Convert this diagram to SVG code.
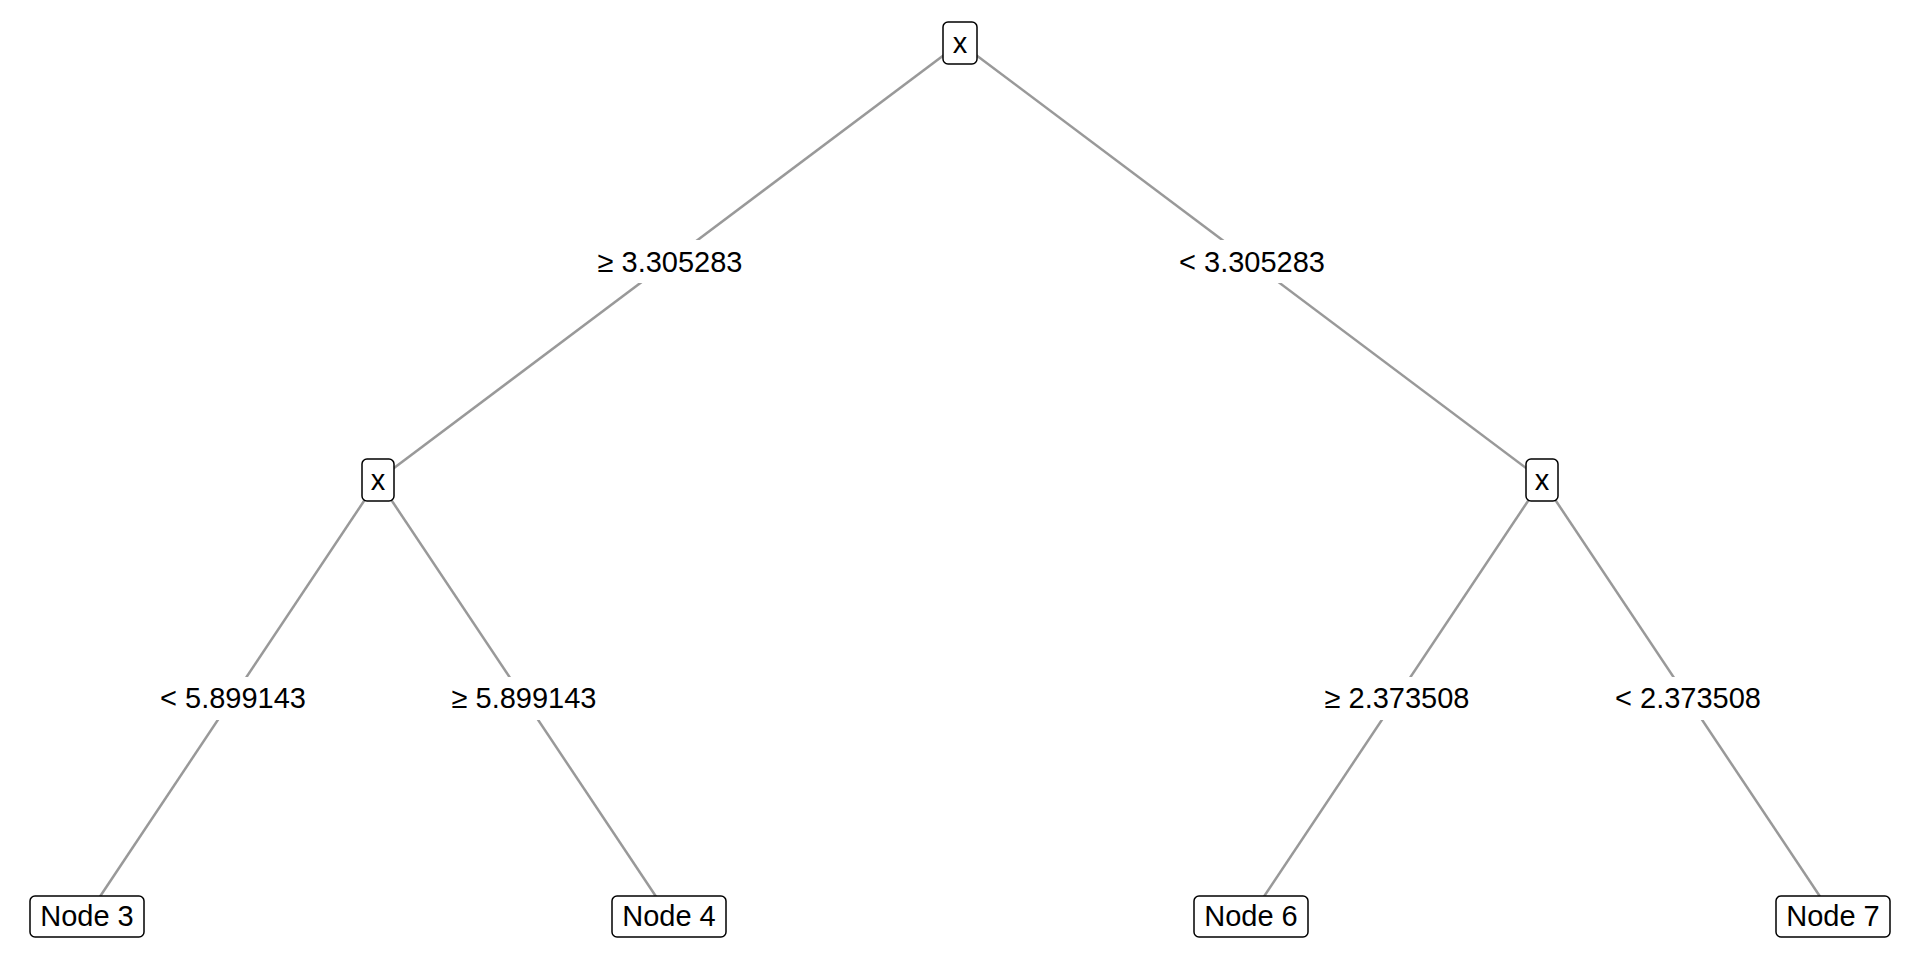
<svg xmlns="http://www.w3.org/2000/svg" width="1920" height="960" viewBox="0 0 1920 960">
<style>
.edge{stroke:#999999;stroke-width:2.5;fill:none}
.box{fill:#ffffff;stroke:#000000;stroke-width:1.5}
.lbg{fill:#ffffff;stroke:none}
text{font-family:"Liberation Sans",Arial,sans-serif;font-size:29px;fill:#000000;text-anchor:middle}
</style>
<rect width="1920" height="960" fill="#ffffff"/>
<g id="connectors">
<line class="edge" x1="960" y1="43" x2="378" y2="480"/>
<line class="edge" x1="960" y1="43" x2="1542" y2="480"/>
<line class="edge" x1="378" y1="480" x2="87" y2="916"/>
<line class="edge" x1="378" y1="480" x2="669" y2="916"/>
<line class="edge" x1="1542" y1="480" x2="1251" y2="916"/>
<line class="edge" x1="1542" y1="480" x2="1833" y2="916"/>
<rect class="lbg" x="592" y="240" width="156" height="43"/>
<rect class="lbg" x="1174" y="240" width="156" height="43"/>
<rect class="lbg" x="155" y="677" width="156" height="43"/>
<rect class="lbg" x="446" y="677" width="156" height="43"/>
<rect class="lbg" x="1319" y="677" width="156" height="43"/>
<rect class="lbg" x="1610" y="677" width="156" height="43"/>
<text x="670" y="272">≥ 3.305283</text>
<text x="1252" y="272">&lt; 3.305283</text>
<text x="233" y="708">&lt; 5.899143</text>
<text x="524" y="708">≥ 5.899143</text>
<text x="1397" y="708">≥ 2.373508</text>
<text x="1688" y="708">&lt; 2.373508</text>
</g>
<g id="node1">
<rect class="box" x="943" y="22" width="34" height="42" rx="5"/>
<text x="960" y="53">x</text>
</g>
<g id="node2">
<rect class="box" x="362" y="459" width="32" height="42" rx="5"/>
<text x="378" y="490">x</text>
</g>
<g id="node5">
<rect class="box" x="1526" y="459" width="32" height="42" rx="5"/>
<text x="1542" y="490">x</text>
</g>
<g id="node3">
<rect class="box" x="30" y="896" width="114" height="41" rx="5"/>
<text x="87" y="926">Node 3</text>
</g>
<g id="node4">
<rect class="box" x="612" y="896" width="114" height="41" rx="5"/>
<text x="669" y="926">Node 4</text>
</g>
<g id="node6">
<rect class="box" x="1194" y="896" width="114" height="41" rx="5"/>
<text x="1251" y="926">Node 6</text>
</g>
<g id="node7">
<rect class="box" x="1776" y="896" width="114" height="41" rx="5"/>
<text x="1833" y="926">Node 7</text>
</g>
</svg>
